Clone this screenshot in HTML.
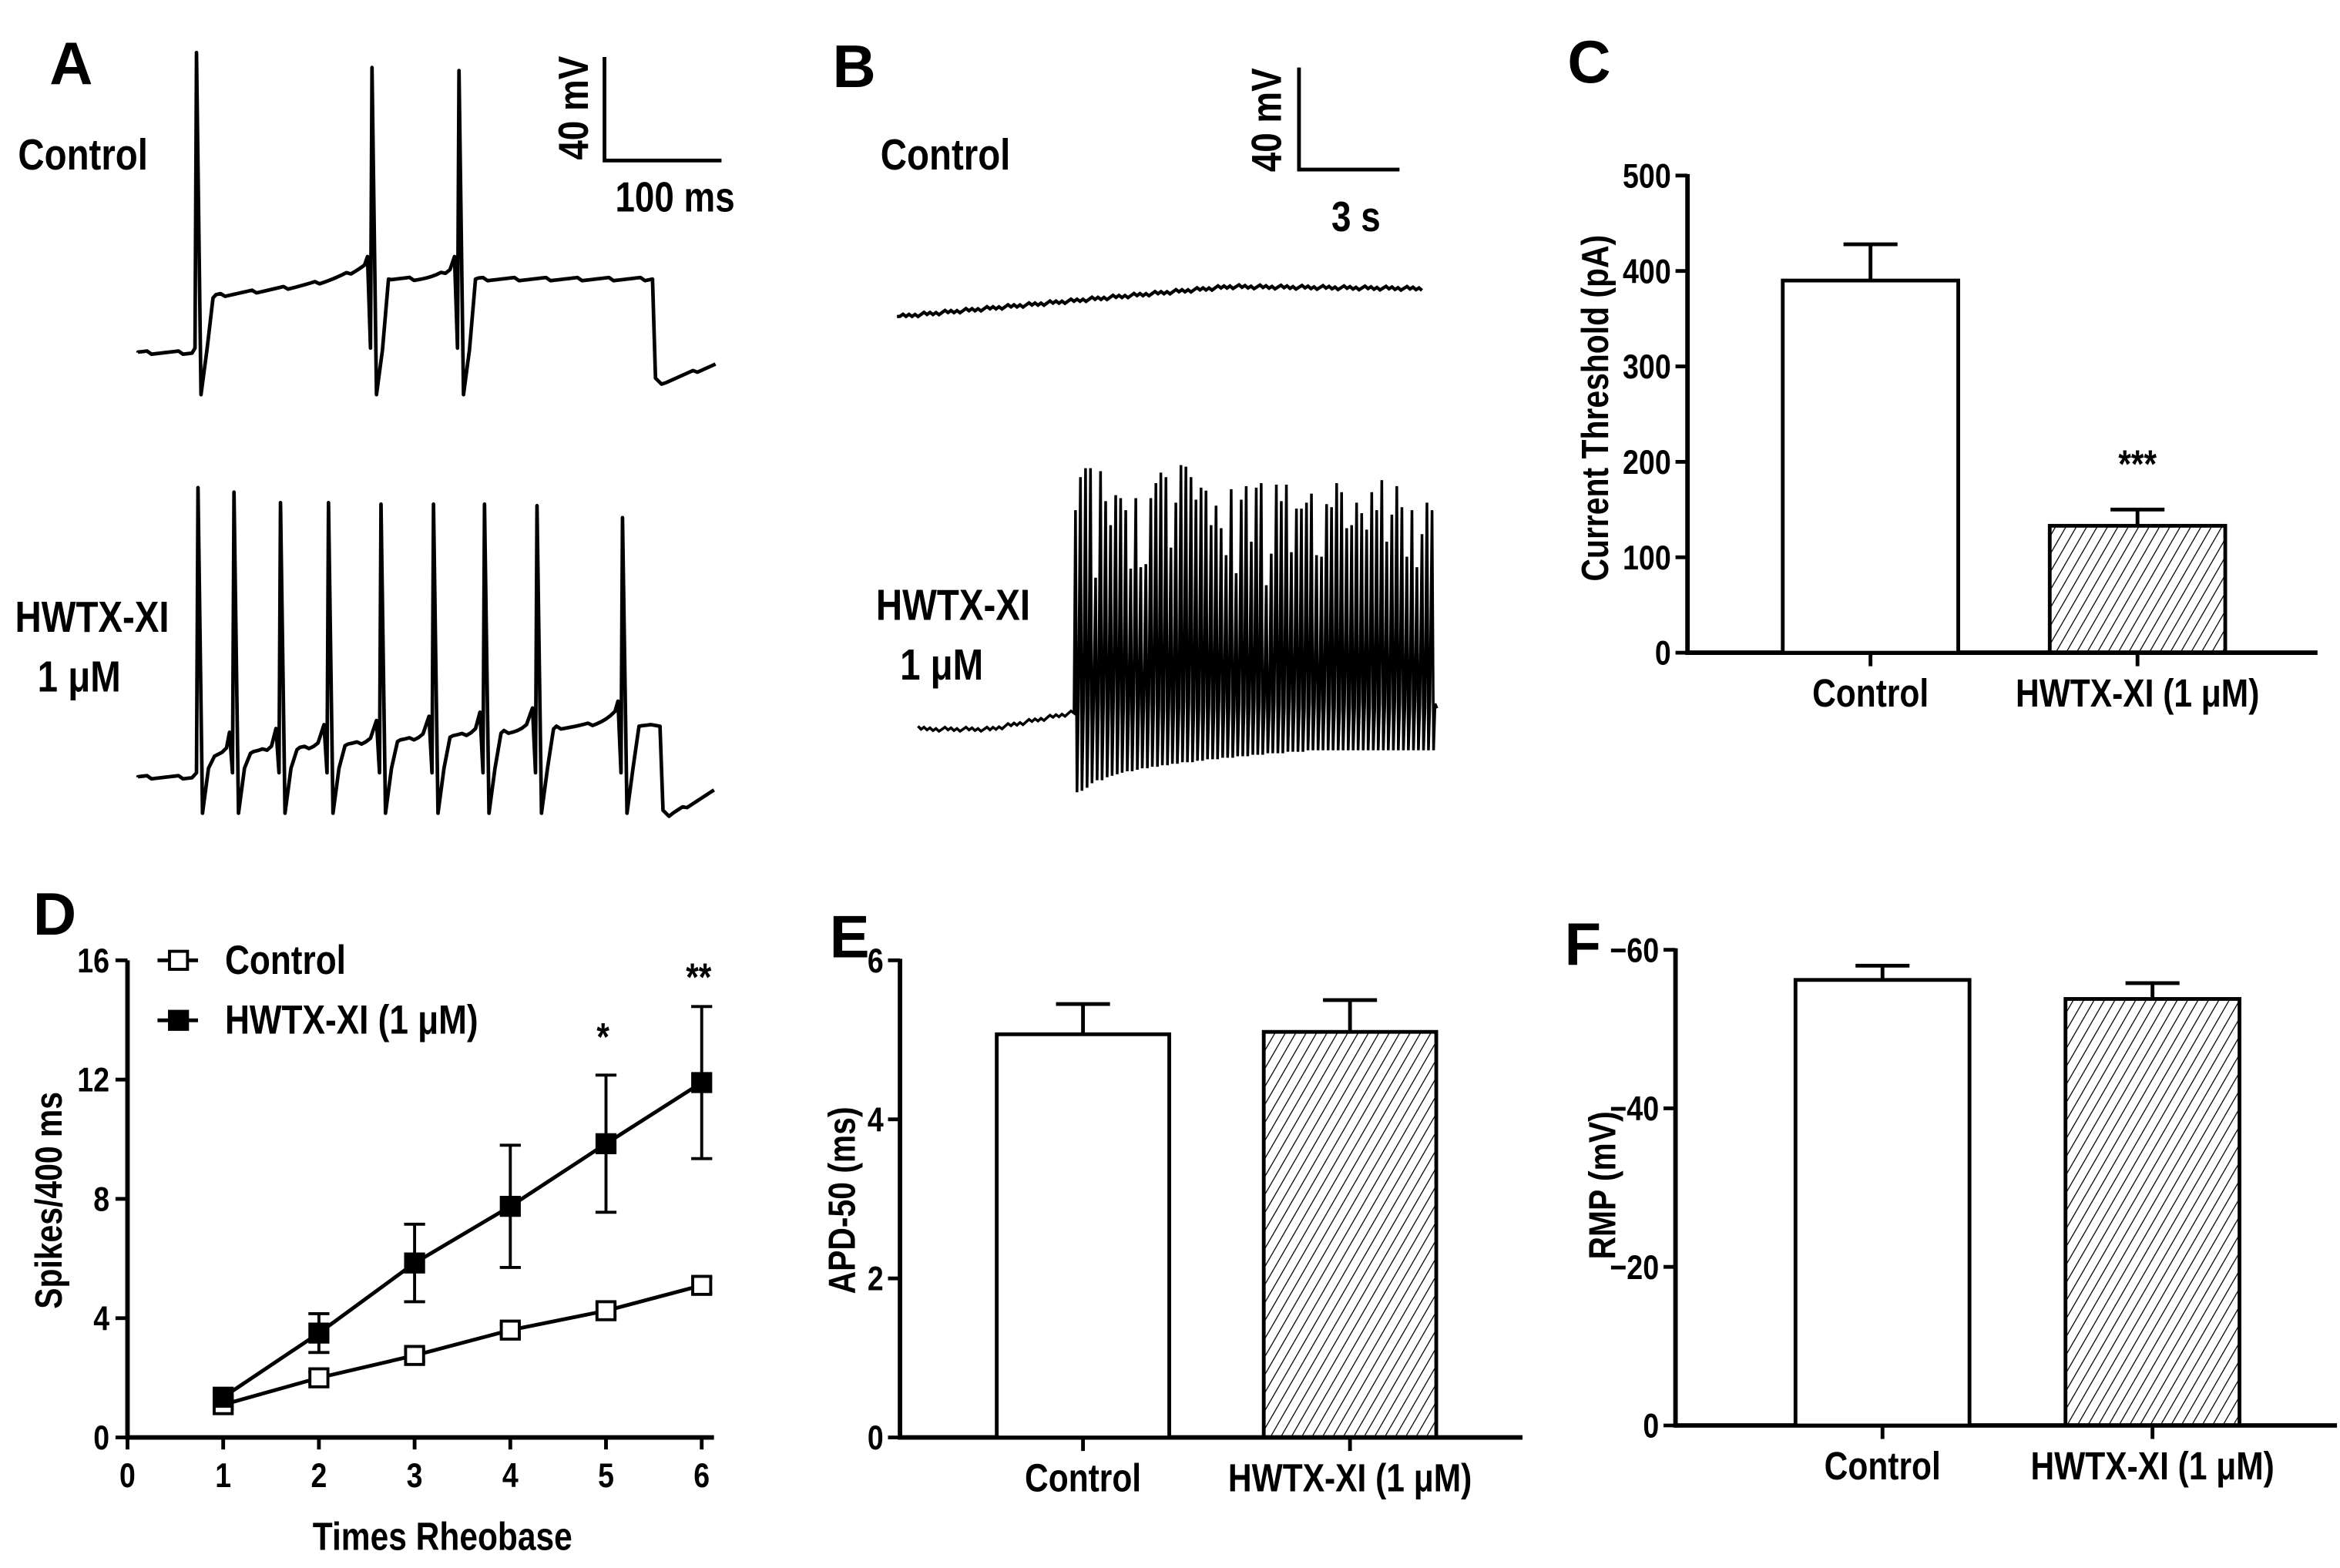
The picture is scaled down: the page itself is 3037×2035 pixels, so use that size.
<!DOCTYPE html>
<html><head><meta charset="utf-8">
<style>
html,body{margin:0;padding:0;background:#fff;}
svg{display:block;}
text{font-family:"Liberation Sans Narrow","Liberation Sans",sans-serif;font-weight:bold;fill:#000;}
</style></head>
<body>
<svg id="fig" xmlns="http://www.w3.org/2000/svg" width="3037" height="2035" viewBox="0 0 1560 1045" preserveAspectRatio="none">
<defs>
<pattern id="hatch" patternUnits="userSpaceOnUse" width="6" height="6" patternTransform="rotate(30)">
<line x1="0" y1="0" x2="0" y2="6" stroke="#000" stroke-width="1.3"/>
</pattern>
</defs>
<!-- Panel A -->
<text x="33" y="56" font-size="40">A</text>
<text x="12" y="113" font-size="29">Control</text>
<text x="10" y="421" font-size="29">HWTX-XI</text>
<text x="25" y="461" font-size="29">1 μM</text>
<path d="M403,38 V107 H481" fill="none" stroke="#000" stroke-width="2.5"/>
<text transform="translate(392,72) rotate(-90)" text-anchor="middle" font-size="28">40 mV</text>
<text x="450" y="141" text-anchor="middle" font-size="28">100 ms</text>
<g id="traceA"></g>
<!-- Panel B -->
<text x="555" y="58" font-size="40">B</text>
<text x="587" y="113" font-size="29">Control</text>
<text x="584" y="413" font-size="29">HWTX-XI</text>
<text x="600" y="453" font-size="29">1 μM</text>
<path d="M866,45 V113 H933" fill="none" stroke="#000" stroke-width="2.5"/>
<text transform="translate(854,80) rotate(-90)" text-anchor="middle" font-size="28">40 mV</text>
<text x="904" y="154" text-anchor="middle" font-size="28">3 s</text>
<g id="traceB"></g>
<!-- Panels C-F -->
<text x="1045" y="55" font-size="40">C</text>
<text x="22" y="623" font-size="40">D</text>
<text x="553" y="638" font-size="40">E</text>
<text x="1043" y="643" font-size="40">F</text>
<g id="chartC"></g>
<g id="chartD"></g>
<g id="chartE"></g>
<g id="chartF"></g>
</svg>
<script>
// ---- data ----
const barCategories = ["Control", "HWTX-XI (1 μM)"];
const thresholdValues = [390, 133];
const thresholdErrors = [38, 17];
const thresholdTicks = [0, 100, 200, 300, 400, 500];
const apdValues = [5.07, 5.1];
const apdErrors = [0.38, 0.4];
const apdTicks = [0, 2, 4, 6];
const rmpValues = [-56.2, -53.8];
const rmpErrors = [-1.8, -2.0];
const rmpTicks = [0, -20, -40, -60];
const rheobaseX = [1, 2, 3, 4, 5, 6];
const spikesControl = [1.1, 2.0, 2.75, 3.6, 4.25, 5.1];
const spikesControlErr = [0.15, 0.2, 0.2, 0.2, 0.2, 0.25];
const spikesHwtx = [1.35, 3.5, 5.85, 7.75, 9.85, 11.9];
const spikesHwtxErr = [0.2, 0.65, 1.3, 2.05, 2.3, 2.55];
const spikesXTicks = [0, 1, 2, 3, 4, 5, 6];
const spikesYTicks = [0, 4, 8, 12, 16];
// trace data (display units)
const aControlSpikes = [130, 247, 305];
const aControlPeaks = [35, 45, 47];
const aHwtxSpikes = [131, 155, 186, 218, 253, 288, 322, 357, 414];
const aHwtxPeaks = [325, 328, 335, 335, 336, 336, 336, 337, 345];
const bBurstPeaks = [340,318,312,312,385,314,334,350,330,332,340,379,332,378,376,332,322,315,318,365,335,310,311,318,333,325,327,350,337,352,370,326,382,333,324,361,325,322,390,369,323,334,323,368,339,339,335,329,370,371,336,338,322,328,352,350,335,342,353,328,340,320,361,343,324,338,371,340,378,356,335,340];
const bBurstTroughs = [528,527,525,522,520,520,518,517,516,515,514,514,513,512,512,511,511,510,510,509,509,508,508,508,507,507,506,506,506,505,505,505,504,504,504,503,503,503,502,502,502,502,501,501,501,501,500,500,500,500,500,500,500,500,500,500,500,500,500,500,500,500,500,500,500,500,500,500,500,500,500,500];

const NS = "http://www.w3.org/2000/svg";
function mk(parent, tag, attrs) {
  const e = document.createElementNS(NS, tag);
  for (const k in attrs) e.setAttribute(k, attrs[k]);
  parent.appendChild(e);
  return e;
}
function txt(parent, x, y, s, size, anchor) {
  const t = mk(parent, "text", {x: x, y: y, "font-size": size, "text-anchor": anchor || "middle"});
  t.textContent = s;
  return t;
}
function jitter(i){ return ((i*37)%7 - 3) * 0.35; }

// ---- Panel A traces ----
function drawATrace(g, base, spikes, peaks, trough, plateauFn, endX, stepY, tailEnd, name) {
  let d = "M92," + base;
  for (let x = 92; x < spikes[0]; x += 3) d += " L" + x + "," + (base + jitter(x));
  spikes.forEach((sx, i) => {
    const last = i === spikes.length - 1;
    const next = last ? endX : spikes[i + 1];
    d += " L" + sx + "," + (base - 3) + " L" + (sx + 1) + "," + peaks[i] + " L" + (sx + 4) + "," + trough;
    const p0 = plateauFn(sx + 12), p1 = plateauFn(next);
    d += " L" + (sx + 8) + "," + (trough - 30) + " L" + (sx + 12) + "," + p0;
    for (let x = sx + 14; x < next - 3; x += 3) {
      const t = (x - sx) / (next - sx);
      d += " L" + x + "," + (p0 + (p1 - p0) * t - (last ? 0 : 12 * Math.pow(t, 6)) + jitter(x));
    }
    if (!last) d += " L" + (next - 2) + "," + (p1 - 15);
  });
  d += " L" + endX + "," + plateauFn(endX) + " L" + (endX + 2) + "," + stepY + " L" + (endX + 6) + "," + (stepY + 4);
  for (let x = endX + 9; x <= 477; x += 3) d += " L" + x + "," + (stepY + 2 - (x - endX - 9) * ((stepY - tailEnd) / (477 - endX - 9)) + jitter(x));
  const p = mk(g, "path", {d: d, fill: "none", stroke: "#000", "stroke-width": 2.4, "stroke-linejoin": "round"});
  
  
}
const gA = document.getElementById("traceA");
drawATrace(gA, 235, aControlSpikes, aControlPeaks, 263, x => Math.max(200 - (x - 130) * 0.12, 186), 435, 252, 241, "a-control-trace");
drawATrace(gA, 518, aHwtxSpikes, aHwtxPeaks, 542, x => (x > 418 ? 484 : 505 - (x - 130) * 0.08), 440, 540, 525, "a-hwtx-trace");

// ---- Panel B traces ----
const gB = document.getElementById("traceB");
(function(){
  let d = "M598,211";
  for (let x = 600; x <= 948; x += 2) {
    const y = x < 820 ? 211 - (x - 598) * 0.09 : 191 + (x - 820) * 0.01;
    d += " L" + x + "," + (y + jitter(x) * 1.2);
  }
  const p = mk(gB, "path", {d: d, fill: "none", stroke: "#000", "stroke-width": 2.2});
  
  
  let d2 = "M612,484";
  for (let x = 614; x < 717; x += 2) {
    const y = x < 660 ? 486 : 486 - (x - 660) * 0.2;
    d2 += " L" + x + "," + (y + jitter(x) * 1.3);
  }
  const n = bBurstPeaks.length;
  const step = (958 - 717) / n;
  for (let i = 0; i < n; i++) {
    const x = 717 + i * step;
    d2 += " L" + x.toFixed(1) + "," + bBurstPeaks[i] + " L" + (x + 1).toFixed(1) + "," + bBurstTroughs[i] + " L" + (x + step * 0.6).toFixed(1) + "," + (470 + jitter(i) * 3);
  }
  d2 += " L958,472";
  const p2 = mk(gB, "path", {d: d2, fill: "none", stroke: "#000", "stroke-width": 1.8, "stroke-linejoin": "miter"});
  
  
})();

// ---- bar chart helper ----
function barChart(gid, o, values, errors, ticks, tickFmt) {
  const g = document.getElementById(gid);
  const ys = v => o.y0 + (v - o.vmin) / (o.vmax - o.vmin) * (o.y1 - o.y0);
  mk(g, "line", {x1: o.ax, y1: o.y1 - 1, x2: o.ax, y2: o.y0 + 1.5, stroke: "#000", "stroke-width": 3});
  mk(g, "line", {x1: o.ax, y1: o.y0, x2: o.xend, y2: o.y0, stroke: "#000", "stroke-width": 3});
  ticks.forEach(t => {
    const y = ys(t);
    const tk = mk(g, "line", {x1: o.ax - 8, y1: y, x2: o.ax, y2: y, stroke: "#000", "stroke-width": 2.5});
    
    
    const lb = txt(g, o.ax - 11, y + 8, tickFmt(t), 23, "end");
    
    
  });
  values.forEach((v, i) => {
    const cx = o.cx[i], y = ys(v), ye = ys(v + errors[i]);
    const er = mk(g, "path", {d: "M" + cx + "," + y + " V" + ye + " M" + (cx - 18) + "," + ye + " H" + (cx + 18), stroke: "#000", "stroke-width": 2.5, fill: "none"});
    
    
    const r = mk(g, "rect", {x: cx - o.bw / 2, y: Math.min(y, o.y0), width: o.bw, height: Math.abs(o.y0 - y), fill: i === 0 ? "#fff" : "url(#hatch)", stroke: "#000", "stroke-width": 2.5});
    
    
    const tk = mk(g, "line", {x1: cx, y1: o.y0, x2: cx, y2: o.y0 + 9, stroke: "#000", "stroke-width": 2.5});
    
    
    const lb = txt(g, cx, o.y0 + 36, barCategories[i], 26);
    
    
  });
  const yt = mk(g, "text", {transform: "translate(" + o.tx + "," + o.ty + ") rotate(-90)", "text-anchor": "middle", "font-size": 25});
  yt.textContent = o.title;
  
  
  return {g: g, ys: ys};
}
const fmt = t => String(t);
const fmtNeg = t => (t < 0 ? "\u2212" + Math.abs(t) : String(t));

const C = barChart("chartC", {ax: 1125, y0: 435, y1: 117, vmin: 0, vmax: 500, xend: 1545, cx: [1247, 1425], bw: 117, tx: 1072, ty: 272, title: "Current Threshold (pA)"}, thresholdValues, thresholdErrors, thresholdTicks, fmt);
(function(){
  const s = txt(C.g, 1425, 318, "***", 26);
  
  
})();
barChart("chartE", {ax: 600, y0: 958, y1: 640, vmin: 0, vmax: 6, xend: 1015, cx: [722, 900], bw: 115, tx: 570, ty: 800, title: "APD-50 (ms)"}, apdValues, apdErrors, apdTicks, fmt);
barChart("chartF", {ax: 1117, y0: 950, y1: 633, vmin: 0, vmax: -60, xend: 1558, cx: [1255, 1435], bw: 116, tx: 1077, ty: 790, title: "RMP (mV)"}, rmpValues, rmpErrors, rmpTicks, fmtNeg);

// ---- Panel D line chart ----
(function(){
  const g = document.getElementById("chartD");
  const xs = v => 85 + v * 63.8;
  const ys = v => 958 - v * (318 / 16);
  mk(g, "line", {x1: 85, y1: 640, x2: 85, y2: 959.5, stroke: "#000", "stroke-width": 3});
  mk(g, "line", {x1: 85, y1: 958, x2: 476, y2: 958, stroke: "#000", "stroke-width": 3});
  spikesYTicks.forEach(t => {
    const y = ys(t);
    const tk = mk(g, "line", {x1: 77, y1: y, x2: 85, y2: y, stroke: "#000", "stroke-width": 2.5});
    
    
    const lb = txt(g, 73, y + 8, String(t), 23, "end");
    
    
  });
  spikesXTicks.forEach(t => {
    const x = xs(t);
    const tk = mk(g, "line", {x1: x, y1: 958, x2: x, y2: 966, stroke: "#000", "stroke-width": 2.5});
    
    
    const lb = txt(g, x, 991, String(t), 23);
    
    
  });
  function series(vals, errs, filled, name) {
    const pts = vals.map((v, i) => xs(rheobaseX[i]) + "," + ys(v)).join(" ");
    const pl = mk(g, "polyline", {points: pts, fill: "none", stroke: "#000", "stroke-width": 2.5});
    
    
    vals.forEach((v, i) => {
      const x = xs(rheobaseX[i]), y = ys(v), yt = ys(v + errs[i]), yb = ys(v - errs[i]);
      const er = mk(g, "path", {d: "M" + x + "," + yb + " V" + yt + " M" + (x - 7) + "," + yt + " H" + (x + 7) + " M" + (x - 7) + "," + yb + " H" + (x + 7), stroke: "#000", "stroke-width": 2, fill: "none"});
      
      
      const m = mk(g, "rect", {x: x - 6, y: y - 6, width: 12, height: 12, fill: filled ? "#000" : "#fff", stroke: "#000", "stroke-width": 2});
      
      
    });
  }
  series(spikesControl, spikesControlErr, false, "control");
  series(spikesHwtx, spikesHwtxErr, true, "hwtx");
  mk(g, "line", {x1: 105, y1: 640, x2: 132, y2: 640, stroke: "#000", "stroke-width": 2.5});
  const l1 = mk(g, "rect", {x: 113, y: 634, width: 12, height: 12, fill: "#fff", stroke: "#000", "stroke-width": 2});
  
  
  const t1 = txt(g, 150, 649, "Control", 27, "start");
  
  
  mk(g, "line", {x1: 105, y1: 680, x2: 132, y2: 680, stroke: "#000", "stroke-width": 2.5});
  const l2 = mk(g, "rect", {x: 113, y: 674, width: 12, height: 12, fill: "#000", stroke: "#000", "stroke-width": 2});
  
  
  const t2 = txt(g, 150, 689, "HWTX-XI (1 μM)", 27, "start");
  
  
  const s1 = txt(g, xs(5) - 2, 700, "*", 26);
  
  
  const s2 = txt(g, xs(6) - 2, 660, "**", 26);
  
  
  const xt = txt(g, 295, 1033, "Times Rheobase", 26);
  
  
  const yt = mk(g, "text", {transform: "translate(41,800) rotate(-90)", "text-anchor": "middle", "font-size": 25});
  yt.textContent = "Spikes/400 ms";
  
  
})();

// ---- emulate condensed font ----
document.querySelectorAll("#fig text").forEach(t => {
  const fs = parseFloat(t.getAttribute("font-size"));
  if (fs >= 38) return;
  const len = t.getComputedTextLength();
  if (len > 0) {
    t.setAttribute("textLength", (len * 0.84).toFixed(1));
    t.setAttribute("lengthAdjust", "spacingAndGlyphs");
  }
});
</script>
</body></html>
